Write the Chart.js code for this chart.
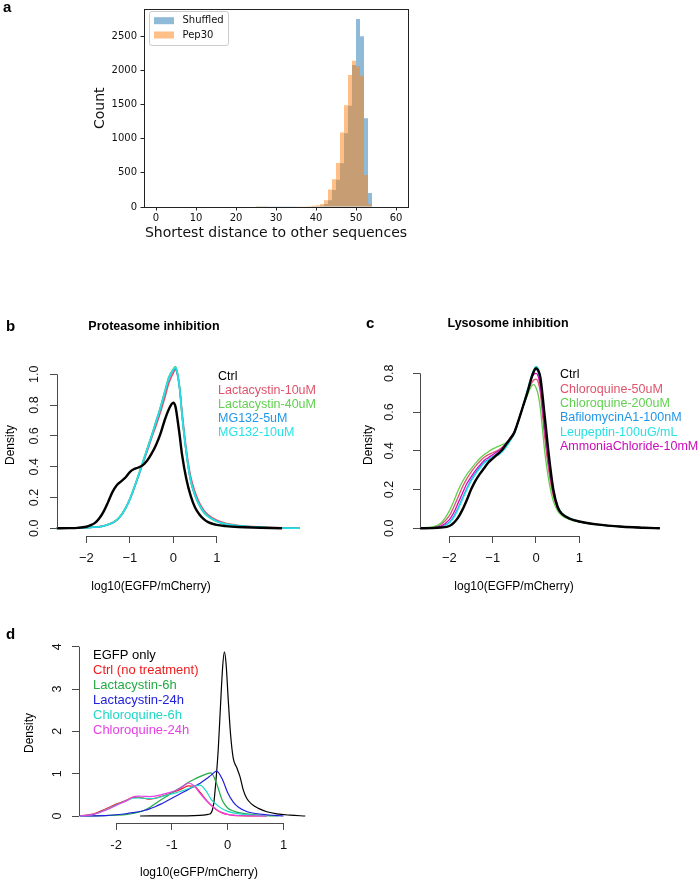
<!DOCTYPE html>
<html><head><meta charset="utf-8">
<script src="https://cdn.jsdelivr.net/npm/chart.js@4.4.1/dist/chart.umd.min.js"></script>
<style>
html,body{margin:0;padding:0;background:#fff;}
body{width:699px;height:883px;position:relative;overflow:hidden;}
canvas{position:absolute;}
</style></head><body>
<canvas id="ca" width="420" height="250" style="left:0;top:0;width:420px;height:250px"></canvas>
<canvas id="cb" width="340" height="290" style="left:0;top:310px;width:340px;height:290px"></canvas>
<canvas id="cc" width="359" height="290" style="left:340px;top:310px;width:359px;height:290px"></canvas>
<canvas id="cd" width="340" height="263" style="left:0;top:620px;width:340px;height:263px"></canvas>
<script>
// ---------- Panel a: histogram ----------
const A_BIN_CENTERS = [25.5,26.5,27.5,28.5,29.5,30.5,31.5,32.5,33.5,34.5,35.5,36.5,37.5,38.5,39.5,40.5,41.5,42.5,43.5,44.5,45.5,46.5,47.5,48.5,49.5,50.5,51.5,52.5,53.5];
const A_SHUFFLED = [2,2,3,3,3,4,4,4,5,5,6,6,7,8,10,10,20,45,100,250,400,640,1080,1480,2078,2750,2500,1300,205];
const A_PEP30    = [4,5,5,6,6,7,7,8,8,9,10,10,12,14,17,25,45,100,255,405,645,1090,1490,1930,2140,2060,1920,470,40];
const A_XTICKS = [0,10,20,30,40,50,60];
const A_YTICKS = [0,500,1000,1500,2000,2500];
const A_SERIES = ['Shuffled','Pep30'];

// ---------- Panel b: proteasome inhibition ----------
const B_X = [-3.1,-2.68,-2.4,-2.2,-2.0,-1.9,-1.8,-1.7,-1.6,-1.5,-1.4,-1.3,-1.2,-1.1,-1.0,-0.9,-0.8,-0.7,-0.6,-0.5,-0.4,-0.3,-0.2,-0.1,0.0,0.05,0.1,0.15,0.2,0.3,0.4,0.5,0.6,0.7,0.8,1.0,1.2,1.5,2.0,2.5,2.91];
const B_CTRL  = [null,0,0.001,0.003,0.01,0.02,0.035,0.065,0.11,0.17,0.235,0.28,0.305,0.33,0.365,0.385,0.395,0.41,0.44,0.485,0.54,0.61,0.70,0.775,0.815,0.79,0.70,0.595,0.48,0.32,0.21,0.135,0.09,0.06,0.04,0.022,0.014,0.008,0.004,0,null];
const B_LAC10 = [0,0,0.001,0.002,0.004,0.006,0.008,0.011,0.016,0.025,0.036,0.055,0.085,0.13,0.188,0.26,0.34,0.42,0.50,0.585,0.665,0.75,0.845,0.945,1.01,1.03,0.99,0.9,0.76,0.51,0.335,0.235,0.165,0.118,0.087,0.052,0.032,0.018,0.008,0.003,0];
const B_LAC40 = [0,0,0.001,0.002,0.004,0.006,0.008,0.01,0.015,0.025,0.036,0.055,0.086,0.132,0.192,0.268,0.348,0.433,0.518,0.603,0.693,0.783,0.885,0.985,1.035,1.05,1.005,0.9,0.735,0.485,0.305,0.21,0.147,0.103,0.076,0.044,0.027,0.015,0.007,0.002,0];
const B_MG5   = [0,0,0.001,0.002,0.004,0.006,0.008,0.01,0.015,0.024,0.034,0.053,0.083,0.128,0.187,0.262,0.342,0.427,0.512,0.597,0.687,0.777,0.877,0.977,1.028,1.04,0.995,0.895,0.74,0.49,0.31,0.215,0.15,0.106,0.079,0.046,0.028,0.016,0.007,0.002,0];
const B_MG10  = [0,0,0.001,0.002,0.004,0.006,0.008,0.01,0.015,0.025,0.035,0.054,0.085,0.13,0.19,0.265,0.345,0.43,0.515,0.60,0.69,0.78,0.88,0.98,1.03,1.045,1.0,0.9,0.74,0.49,0.31,0.215,0.15,0.105,0.078,0.045,0.028,0.016,0.007,0.002,0];
const B_SERIES = ['Ctrl','Lactacystin-10uM','Lactacystin-40uM','MG132-5uM','MG132-10uM'];
const B_XTICKS = [-2,-1,0,1];
const B_XLABELS = ['\u22122','\u22121','0','1'];
const B_YTICKS = [0,0.2,0.4,0.6,0.8,1.0];
const B_YLABELS = ['0.0','0.2','0.4','0.6','0.8','1.0'];

// ---------- Panel c: lysosome inhibition ----------
const C_X = [-3.76,-3.06,-2.8,-2.68,-2.4,-2.2,-2.0,-1.9,-1.8,-1.7,-1.6,-1.5,-1.4,-1.3,-1.2,-1.1,-1.0,-0.9,-0.8,-0.7,-0.6,-0.5,-0.4,-0.3,-0.2,-0.1,-0.05,0.0,0.05,0.1,0.2,0.3,0.4,0.5,0.6,0.8,1.0,1.4,2.0,2.5,2.86];
const C_CTRL  = [null,null,null,0,0.001,0.004,0.012,0.028,0.055,0.095,0.145,0.20,0.245,0.28,0.31,0.34,0.36,0.38,0.40,0.43,0.46,0.495,0.56,0.63,0.70,0.78,0.81,0.826,0.815,0.78,0.58,0.37,0.20,0.11,0.075,0.048,0.035,0.02,0.008,0.003,0];
const C_CQ50  = [0,0,0.001,0.002,0.005,0.018,0.065,0.11,0.16,0.213,0.255,0.29,0.32,0.345,0.365,0.38,0.39,0.40,0.415,0.435,0.465,0.50,0.56,0.63,0.695,0.75,0.765,0.77,0.755,0.70,0.47,0.29,0.165,0.10,0.07,0.046,0.034,0.02,0.008,0.003,0];
const C_CQ200 = [0,0,0.001,0.003,0.007,0.026,0.09,0.14,0.195,0.24,0.277,0.307,0.335,0.36,0.38,0.395,0.41,0.42,0.43,0.44,0.465,0.50,0.555,0.625,0.685,0.735,0.742,0.725,0.69,0.62,0.40,0.24,0.14,0.09,0.065,0.044,0.033,0.018,0.007,0.002,0];
const C_BAF   = [null,0,0,0.001,0.003,0.008,0.032,0.062,0.105,0.155,0.205,0.25,0.285,0.315,0.34,0.355,0.37,0.385,0.40,0.425,0.455,0.49,0.555,0.63,0.705,0.78,0.81,0.82,0.805,0.76,0.54,0.35,0.19,0.11,0.075,0.048,0.035,0.02,0.008,0.003,0];
const C_LEU   = [null,0,0,0.001,0.003,0.007,0.028,0.055,0.097,0.148,0.198,0.243,0.278,0.308,0.335,0.352,0.365,0.375,0.39,0.415,0.45,0.49,0.555,0.635,0.715,0.79,0.82,0.835,0.825,0.78,0.56,0.36,0.20,0.115,0.078,0.05,0.036,0.02,0.008,0.003,0];
const C_NH4   = [null,null,0,0.001,0.003,0.01,0.045,0.08,0.13,0.18,0.23,0.265,0.298,0.325,0.35,0.365,0.38,0.395,0.41,0.435,0.465,0.50,0.56,0.63,0.70,0.775,0.795,0.80,0.785,0.73,0.51,0.32,0.18,0.105,0.072,0.047,0.034,0.02,0.008,0.003,0];
const C_SERIES = ['Ctrl','Chloroquine-50uM','Chloroquine-200uM','BafilomycinA1-100nM','Leupeptin-100uG/mL','AmmoniaChloride-10mM'];
const C_XTICKS = [-2,-1,0,1];
const C_XLABELS = ['\u22122','\u22121','0','1'];
const C_YTICKS = [0,0.2,0.4,0.6,0.8];
const C_YLABELS = ['0.0','0.2','0.4','0.6','0.8'];

// ---------- Panel d ----------
const D_EGFP_X = [-1.57,-1.0,-0.6,-0.44,-0.35,-0.3,-0.25,-0.21,-0.17,-0.13,-0.09,-0.06,-0.03,0.01,0.05,0.10,0.16,0.22,0.28,0.34,0.43,0.55,0.70,0.88,1.12,1.39];
const D_EGFP   = [0,0.003,0.008,0.02,0.04,0.07,0.3,0.85,1.56,2.58,3.53,3.88,3.61,2.74,1.95,1.36,1.15,0.93,0.61,0.42,0.28,0.18,0.10,0.05,0.02,0];
const D_X = [-2.65,-2.4,-2.2,-2.0,-1.8,-1.7,-1.6,-1.5,-1.4,-1.3,-1.2,-1.1,-1.0,-0.9,-0.8,-0.7,-0.6,-0.5,-0.4,-0.3,-0.2,-0.1,0.0,0.1,0.2,0.35,0.5,0.7,0.9,1.0];
const D_CTRL  = [0,0.05,0.16,0.28,0.38,0.44,0.44,0.42,0.40,0.42,0.46,0.50,0.55,0.60,0.66,0.71,0.70,0.57,0.40,0.26,0.15,0.075,0.035,0.015,0.008,0.004,0.002,0,null,null];
const D_LAC6  = [0,0.003,0.008,0.02,0.04,0.06,0.09,0.13,0.2,0.29,0.38,0.46,0.55,0.63,0.71,0.80,0.87,0.93,0.985,1.02,0.77,0.38,0.19,0.12,0.08,0.05,0.03,0.01,0.002,null];
const D_LAC24 = [0,0.004,0.01,0.03,0.06,0.08,0.10,0.13,0.17,0.22,0.28,0.35,0.42,0.49,0.56,0.63,0.70,0.77,0.86,0.96,1.06,0.88,0.55,0.33,0.2,0.1,0.06,0.03,0.008,0];
const D_CQ6   = [0,0.04,0.14,0.26,0.37,0.42,0.43,0.42,0.41,0.42,0.45,0.49,0.52,0.56,0.60,0.65,0.70,0.73,0.62,0.40,0.27,0.17,0.11,0.075,0.05,0.03,0.015,0.003,null,null];
const D_CQ24  = [0,0.04,0.13,0.25,0.37,0.45,0.47,0.465,0.46,0.47,0.50,0.535,0.57,0.62,0.70,0.78,0.71,0.54,0.39,0.26,0.15,0.08,0.04,0.02,0.01,0.005,0.002,0,null,null];
const D_SERIES = ['EGFP only','Ctrl (no treatment)','Lactacystin-6h','Lactacystin-24h','Chloroquine-6h','Chloroquine-24h'];
const D_XTICKS = [-2,-1,0,1];
const D_XLABELS = ['-2','-1','0','1'];
const D_YTICKS = [0,1,2,3,4];
const D_YLABELS = ['0','1','2','3','4'];

// ---------- styling ----------
const R_FONT = '"Liberation Sans", Arial, Helvetica, sans-serif';
const MPL_FONT = '"DejaVu Sans", sans-serif';
const PAL4 = ['#000000','#DF536B','#61D04F','#2297E6','#28E2E5','#CD0BBC'];
const PAL_D = ['#000000','#EE1C1C','#22AA44','#2020DD','#20D8C8','#E640E6'];
const AXC = '#4a4a4a';

const deco = {
  id: 'deco',
  afterDraw(chart, args, o) {
    const ctx = chart.ctx, a = chart.chartArea;
    const al = p => Math.round(p - 0.5) + 0.5;
    ctx.save();
    if (o.frame) {
      ctx.strokeStyle = o.frame; ctx.lineWidth = 1;
      ctx.strokeRect(al(a.left), al(a.top), Math.round(a.right - a.left), Math.round(a.bottom - a.top));
    }
    if (o.legendBox) {
      const L = o.legendBox;
      ctx.fillStyle = 'rgba(255,255,255,0.8)'; ctx.strokeStyle = '#cccccc'; ctx.lineWidth = 1;
      ctx.beginPath();
      if (ctx.roundRect) ctx.roundRect(L.x + 0.5, L.y + 0.5, L.w, L.h, 2.5); else ctx.rect(L.x + 0.5, L.y + 0.5, L.w, L.h);
      ctx.fill(); ctx.stroke();
      chart.data.datasets.forEach((ds, i) => {
        const yy = L.y + L.first + i * L.step;
        ctx.fillStyle = ds.backgroundColor;
        ctx.fillRect(L.x + 5, yy - 3.5, 20, 7);
        ctx.fillStyle = '#111'; ctx.font = L.font; ctx.textAlign = 'left'; ctx.textBaseline = 'middle';
        ctx.fillText(ds.label, L.x + 33.5, yy);
      });
    }
    if (o.rAxes) {
      const xs = chart.scales.x, ys = chart.scales.y, r = o.rAxes;
      const xt = xs.ticks, yt = ys.ticks;
      ctx.strokeStyle = AXC; ctx.lineWidth = 1;
      const by = al(a.bottom), lx = al(a.left);
      ctx.beginPath();
      ctx.moveTo(xs.getPixelForValue(xt[0].value), by); ctx.lineTo(xs.getPixelForValue(xt[xt.length - 1].value), by);
      ctx.moveTo(lx, ys.getPixelForValue(yt[0].value)); ctx.lineTo(lx, ys.getPixelForValue(yt[yt.length - 1].value));
      ctx.stroke();
      ctx.fillStyle = '#111'; ctx.font = r.font; ctx.textAlign = 'center'; ctx.textBaseline = 'middle';
      yt.forEach((t, i) => {
        ctx.save(); ctx.translate(r.yLabelX, ys.getPixelForValue(t.value)); ctx.rotate(-Math.PI / 2);
        ctx.fillText(r.yLabels[i], 0, 0); ctx.restore();
      });
    }
    (o.texts || []).forEach(t => {
      ctx.save(); ctx.font = t.font; ctx.fillStyle = t.color || '#000';
      ctx.textAlign = t.align || 'left'; ctx.textBaseline = 'middle';
      ctx.translate(t.x, t.y); if (t.rot) ctx.rotate(t.rot);
      ctx.fillText(t.text, 0, 0); ctx.restore();
    });
    ctx.restore();
  }
};

function pts(xs, ys) { return xs.map((x, i) => ({x: x, y: ys[i]})); }
function lineDs(label, xs, ys, color, width, order) {
  return {label, data: pts(xs, ys), borderColor: color, backgroundColor: color, borderWidth: width,
    pointRadius: 0, fill: false, cubicInterpolationMode: 'monotone', clip: false, order, spanGaps: false};
}
function setTicks(arr) { return s => { s.ticks = arr.map(v => ({value: v})); }; }

function rChart(id, cfg) {
  return new Chart(document.getElementById(id), {
    type: 'line',
    data: {datasets: cfg.datasets},
    options: {
      responsive: false, devicePixelRatio: 1, animation: false, events: [],
      layout: {padding: cfg.padding},
      plugins: {legend: {display: false}, tooltip: {enabled: false},
        deco: {rAxes: {font: '12.5px ' + R_FONT, yLabelX: cfg.yLabelX, yLabels: cfg.yLabels}, texts: cfg.texts}},
      scales: {
        x: {type: 'linear', min: cfg.xMin, max: cfg.xMax, afterBuildTicks: setTicks(cfg.xTicks),
          afterFit: s => { s.height = cfg.xHeight; },
          grid: {drawOnChartArea: false, drawTicks: true, tickLength: 7, color: AXC},
          border: {display: false},
          ticks: {font: {family: R_FONT, size: 13}, color: '#111', padding: 7.2, maxRotation: 0, minRotation: 0,
            autoSkip: false, callback: (v, i) => cfg.xLabels[i]}},
        y: {type: 'linear', min: cfg.yMin, max: cfg.yMax, afterBuildTicks: setTicks(cfg.yTicks),
          afterFit: s => { s.width = cfg.yWidth; },
          grid: {drawOnChartArea: false, drawTicks: true, tickLength: 7, color: AXC},
          border: {display: false}, ticks: {display: false}}
      }
    },
    plugins: [deco]
  });
}

// ---------- Panel a ----------
new Chart(document.getElementById('ca'), {
  type: 'bar',
  data: {datasets: [
    {label: A_SERIES[0], data: pts(A_BIN_CENTERS, A_SHUFFLED), backgroundColor: 'rgba(31,119,180,0.5)', borderWidth: 0,
      inflateAmount: 0, barPercentage: 1, categoryPercentage: 1, grouped: false, order: 2},
    {label: A_SERIES[1], data: pts(A_BIN_CENTERS, A_PEP30), backgroundColor: 'rgba(255,127,14,0.5)', borderWidth: 0,
      inflateAmount: 0, barPercentage: 1, categoryPercentage: 1, grouped: false, order: 1}
  ]},
  options: {
    responsive: false, devicePixelRatio: 1, animation: false, events: [],
    layout: {padding: {left: 92, top: 7, right: 12, bottom: 8.6}},
    plugins: {legend: {display: false}, tooltip: {enabled: false},
      deco: {frame: '#222', legendBox: {x: 149, y: 11, w: 79, h: 34, first: 9.7, step: 14.3, font: '10px ' + MPL_FONT},
        texts: [{text: 'a', x: 3, y: 8, font: 'bold 15px ' + R_FONT}]}},
    scales: {
      x: {type: 'linear', offset: false, min: -3, max: 63, afterBuildTicks: setTicks(A_XTICKS), afterFit: s => { s.height = 34.4; },
        grid: {offset: false, drawOnChartArea: false, drawTicks: true, tickLength: 3.5, color: '#222'}, border: {display: false},
        ticks: {font: {family: MPL_FONT, size: 10}, color: '#111', padding: 1.5, maxRotation: 0, autoSkip: false, callback: v => String(v)},
        title: {display: true, text: 'Shortest distance to other sequences', font: {family: MPL_FONT, size: 14}, color: '#111', padding: 0}},
      y: {type: 'linear', min: 0, max: 2890, afterBuildTicks: setTicks(A_YTICKS), afterFit: s => { s.width = 52; },
        grid: {drawOnChartArea: false, drawTicks: true, tickLength: 3.5, color: '#222'}, border: {display: false},
        ticks: {font: {family: MPL_FONT, size: 10}, color: '#111', padding: 3.5, autoSkip: false, callback: v => String(v)},
        title: {display: true, text: 'Count', font: {family: MPL_FONT, size: 14}, color: '#111', padding: 0}}
    }
  },
  plugins: [deco]
});

// ---------- Panel b ----------
rChart('cb', {
  datasets: [
    lineDs(B_SERIES[0], B_X, B_CTRL, PAL4[0], 2.4, 1),
    lineDs(B_SERIES[1], B_X, B_LAC10, PAL4[1], 1.6, 5),
    lineDs(B_SERIES[2], B_X, B_LAC40, PAL4[2], 1.6, 4),
    lineDs(B_SERIES[3], B_X, B_MG5, PAL4[3], 1.6, 3),
    lineDs(B_SERIES[4], B_X, B_MG10, PAL4[4], 1.6, 2)
  ],
  padding: {left: 0, top: 58, right: 38, bottom: 0},
  xMin: -2.674, xMax: 2.959, yMin: -0.05, yMax: 1.041,
  xTicks: B_XTICKS, xLabels: B_XLABELS, yTicks: B_YTICKS, yLabels: B_YLABELS,
  xHeight: 64, yWidth: 57, yLabelX: 35,
  texts: [
    {text: 'b', x: 6, y: 17, font: 'bold 15px ' + R_FONT},
    {text: 'Proteasome inhibition', x: 154, y: 17, align: 'center', font: 'bold 12.5px ' + R_FONT},
    {text: 'Density', x: 11, y: 135, align: 'center', rot: -Math.PI / 2, font: '12px ' + R_FONT},
    {text: 'log10(EGFP/mCherry)', x: 151, y: 277, align: 'center', font: '12px ' + R_FONT}
  ].concat(B_SERIES.map((s, i) => ({text: s, x: 218, y: 66.7 + i * 14, color: PAL4[i], font: '12.5px ' + R_FONT})))
});

// ---------- Panel c ----------
rChart('cc', {
  datasets: [
    lineDs(C_SERIES[0], C_X, C_CTRL, PAL4[0], 2.4, 1),
    lineDs(C_SERIES[1], C_X, C_CQ50, PAL4[1], 1.3, 6),
    lineDs(C_SERIES[2], C_X, C_CQ200, PAL4[2], 1.3, 5),
    lineDs(C_SERIES[3], C_X, C_BAF, PAL4[3], 1.3, 4),
    lineDs(C_SERIES[4], C_X, C_LEU, PAL4[4], 1.3, 3),
    lineDs(C_SERIES[5], C_X, C_NH4, PAL4[5], 1.3, 2)
  ],
  padding: {left: 0, top: 56, right: 37, bottom: 0},
  xMin: -2.679, xMax: 2.910, yMin: -0.0397, yMax: 0.8377,
  xTicks: C_XTICKS, xLabels: C_XLABELS, yTicks: C_YTICKS, yLabels: C_YLABELS,
  xHeight: 64, yWidth: 80, yLabelX: 50,
  texts: [
    {text: 'c', x: 26, y: 14, font: 'bold 15px ' + R_FONT},
    {text: 'Lysosome inhibition', x: 168, y: 14, align: 'center', font: 'bold 12.5px ' + R_FONT},
    {text: 'Density', x: 29, y: 135, align: 'center', rot: -Math.PI / 2, font: '12px ' + R_FONT},
    {text: 'log10(EGFP/mCherry)', x: 174, y: 277, align: 'center', font: '12px ' + R_FONT}
  ].concat(C_SERIES.map((s, i) => ({text: s, x: 220, y: 65 + i * 14.3, color: PAL4[i], font: '12.5px ' + R_FONT})))
});

// ---------- Panel d ----------
rChart('cd', {
  datasets: [
    lineDs(D_SERIES[0], D_EGFP_X, D_EGFP, PAL_D[0], 1.2, 6),
    lineDs(D_SERIES[1], D_X, D_CTRL, PAL_D[1], 1.2, 5),
    lineDs(D_SERIES[2], D_X, D_LAC6, PAL_D[2], 1.2, 4),
    lineDs(D_SERIES[3], D_X, D_LAC24, PAL_D[3], 1.2, 3),
    lineDs(D_SERIES[4], D_X, D_CQ6, PAL_D[4], 1.2, 2),
    lineDs(D_SERIES[5], D_X, D_CQ24, PAL_D[5], 1.2, 1)
  ],
  padding: {left: 0, top: 24, right: 30, bottom: 0},
  xMin: -2.665, xMax: 1.475, yMin: -0.165, yMax: 4.063,
  xTicks: D_XTICKS, xLabels: D_XLABELS, yTicks: D_YTICKS, yLabels: D_YLABELS,
  xHeight: 60, yWidth: 79, yLabelX: 58,
  texts: [
    {text: 'd', x: 6, y: 15, font: 'bold 15px ' + R_FONT},
    {text: 'Density', x: 30, y: 113, align: 'center', rot: -Math.PI / 2, font: '12px ' + R_FONT},
    {text: 'log10(eGFP/mCherry)', x: 199, y: 253, align: 'center', font: '12px ' + R_FONT}
  ].concat(D_SERIES.map((s, i) => ({text: s, x: 93, y: 35 + i * 15, color: PAL_D[i], font: '13px ' + R_FONT})))
});
</script>
</body></html>
